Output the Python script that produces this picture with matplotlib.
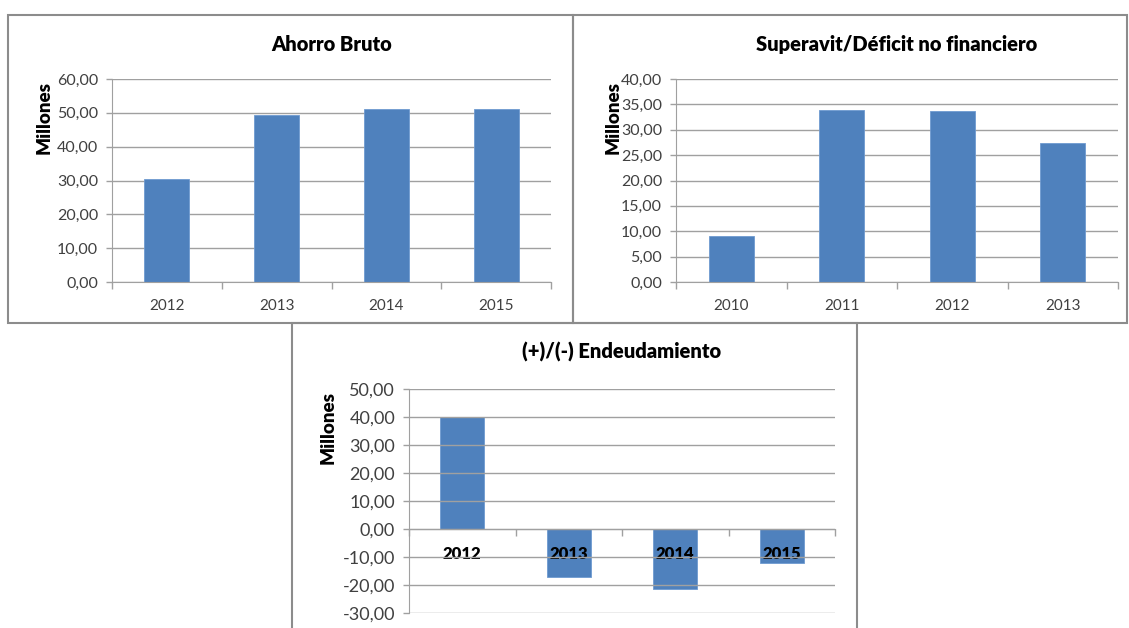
import matplotlib.pyplot as plt
from matplotlib.patches import Rectangle
from matplotlib.ticker import FuncFormatter, MultipleLocator

plt.rcParams['font.family'] = ['Lato', 'DejaVu Sans']

# data (millones)
years_a = ['2012', '2013', '2014', '2015']
ahorro = [30.4, 49.3, 51.1, 51.1]

years_b = ['2010', '2011', '2012', '2013']
superavit = [9.0, 33.9, 33.7, 27.3]

years_c = ['2012', '2013', '2014', '2015']
endeudamiento = [40.0, -17.2, -21.4, -12.1]

BLUE = '#4f81bd'
GRID = '#a0a0a0'
TXT = '#404040'
W, H = 1129, 628


def fig_rect(x0, y0, x1, y1):
    # pixel box -> figure fraction [left, bottom, width, height]
    return [x0 / W, 1 - y1 / H, (x1 - x0) / W, (y1 - y0) / H]


def coma(v, pos):
    return f'{v:.2f}'.replace('.', ',')


fig = plt.figure(figsize=(W / 100, H / 100), dpi=100)

# frames around each chart
for x0, y0, x1, y1 in [(8, 15, 573, 323), (573, 15, 1127, 323), (292, 323, 857, 640)]:
    fig.add_artist(Rectangle((x0 / W, 1 - y1 / H), (x1 - x0) / W, (y1 - y0) / H,
                             transform=fig.transFigure, fill=False,
                             edgecolor='#8c8c8c', linewidth=1.5))


def style(ax, cats, vals, ymin, ymax, step, title, ylab_x, ylab_y, big=False):
    x = range(len(cats))
    ax.bar(x, vals, width=0.41, color=BLUE, edgecolor='#6f9ad0', linewidth=0.6, zorder=2)
    ax.set_xlim(-0.5, len(cats) - 0.5)
    ax.set_ylim(ymin, ymax)
    ax.yaxis.set_major_locator(MultipleLocator(step))
    ax.yaxis.set_major_formatter(FuncFormatter(coma))
    ax.grid(axis='y', color=GRID, linewidth=1, zorder=0)
    for s in ['top', 'right']:
        ax.spines[s].set_visible(False)
    ax.spines['left'].set_color(GRID)
    ax.spines['bottom'].set_color(GRID)
    ax.set_xticks(list(x))
    ax.set_xticks([i - 0.5 for i in range(len(cats) + 1)], minor=True)
    ax.tick_params(axis='x', which='minor', length=5, color=GRID, width=1)
    ax.tick_params(axis='y', length=4, color=GRID, width=1, pad=6,
                   labelsize=13 if big else 11.5, labelcolor=TXT)
    ax.set_ylabel('Millones', fontsize=13.5, fontweight='heavy', va='center')
    ax.yaxis.set_label_coords(ylab_x, ylab_y)
    ax.set_title(title, fontsize=14.5, fontweight='heavy', pad=20 if not big else 22)


ax1 = fig.add_axes(fig_rect(112, 79, 551, 282))
style(ax1, years_a, ahorro, 0, 60, 10, 'Ahorro Bruto', -0.155, 0.81)
ax1.set_xticklabels(years_a)
ax1.tick_params(axis='x', which='major', length=0, pad=12, labelsize=11, labelcolor=TXT)

ax2 = fig.add_axes(fig_rect(676, 79, 1118, 282))
style(ax2, years_b, superavit, 0, 40, 5, 'Superavit/Déficit no financiero', -0.1425, 0.81)
ax2.set_xticklabels(years_b)
ax2.tick_params(axis='x', which='major', length=0, pad=12, labelsize=11, labelcolor=TXT)

ax3 = fig.add_axes(fig_rect(409, 389, 835, 613))
style(ax3, years_c, endeudamiento, -30, 50, 10, '(+)/(-) Endeudamiento', -0.19, 0.83, big=True)
ax3.spines['bottom'].set_position(('data', 0))
ax3.set_xticklabels(years_c, fontweight='heavy')
ax3.tick_params(axis='x', which='major', length=0, pad=12, labelsize=12, labelcolor='black')
for lab in ax3.get_xticklabels():
    lab.set_zorder(5)
ax3.set_axisbelow(False)

fig.savefig('out.png', dpi=100)
